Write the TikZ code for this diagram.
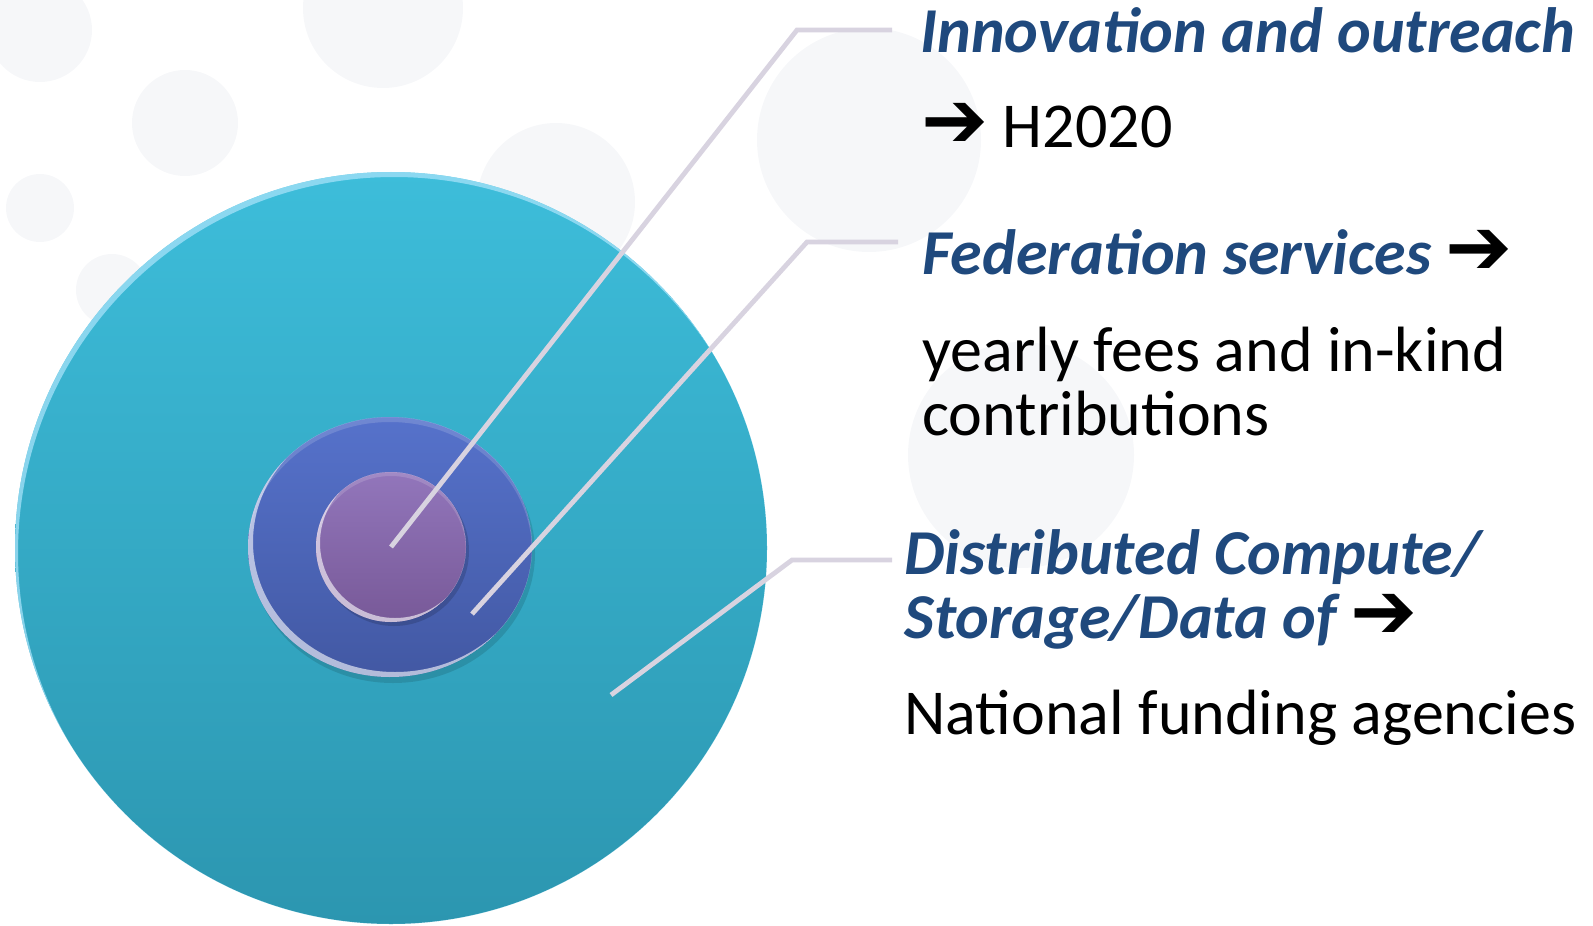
\documentclass[tikz,border=0pt]{standalone}
\usepackage{fontspec}
\setmainfont{Carlito}
\newfontfamily\arrowfont{DejaVu Sans}
\usetikzlibrary{shapes,arrows,fit,positioning}

\definecolor{bubblegray}{RGB}{246,247,249}
\definecolor{outtop}{RGB}{61,189,218}
\definecolor{outbot}{RGB}{44,150,176}
\definecolor{midtop}{RGB}{86,114,203}
\definecolor{midbot}{RGB}{66,88,163}
\definecolor{intop}{RGB}{146,118,187}
\definecolor{inbot}{RGB}{120,89,152}
\definecolor{leadgray}{RGB}{216,211,224}
\definecolor{headblue}{RGB}{31,73,125}

\tikzset{
  bubble/.style={fill=bubblegray},
  disc/.style={circle, inner sep=0pt, draw=none},
  gloss/.style={even odd rule, opacity=#1},
  leader/.style={draw=leadgray, line width=2.4pt},
  head/.style={anchor=base west, inner sep=0pt, align=left, text=headblue,
    font=\fontsize{32}{32}\selectfont\bfseries\itshape},
  body/.style={anchor=base west, inner sep=0pt, align=left,
    font=\fontsize{32}{32}\selectfont},
}
\newcommand{\goarrow}{{\arrowfont\bfseries\fontsize{40}{32}\selectfont ➔}}

\begin{document}
\begin{tikzpicture}[x=0.5pt,y=-0.5pt]
\useasboundingbox (0,0) rectangle (1593,925);
% faint bubbles behind
\foreach \cx/\cy/\r in {40/30/52, 383/8/80, 185/123/53, 40/208/34, 112/290/36,
                        556/202/79, 869/140/112, 1021/455/113}
  \fill[bubble] (\cx,\cy) circle (\r);

% the three discs
\node[disc, minimum size=376pt, top color=outtop, bottom color=outbot] (outer) at (391,548) {};
\begin{scope}
  \clip (outer.center) circle (376);
  \fill[cyan!35!white, gloss=.75] (outer.center) circle (376) ([shift={(3,5)}]outer.center) circle (376);
\end{scope}
\fill[black, opacity=.12] (393,553) ellipse [x radius=142, y radius=130];
\node[disc, ellipse, minimum width=142pt, minimum height=130pt, top color=midtop, bottom color=midbot] (middle) at (390,547) {};
\begin{scope}
  \clip (middle.center) ellipse [x radius=142, y radius=130];
  \fill[white, gloss=.6] (middle.center) ellipse [x radius=142, y radius=130]
    ([shift={(5,-5)}]middle.center) ellipse [x radius=142, y radius=130];
  \fill[white, gloss=.15] (middle.center) ellipse [x radius=142, y radius=130]
    ([shift={(0,5)}]middle.center) ellipse [x radius=142, y radius=130];
\end{scope}
\fill[black, opacity=.15] (394,551) circle (75);
\node[disc, minimum size=75pt, top color=intop, bottom color=inbot] (inner) at (391,547) {};
\begin{scope}
  \clip (inner.center) circle (75);
  \fill[white, gloss=.6] (inner.center) circle (75) ([shift={(4,-4)}]inner.center) circle (75);
  \fill[white, gloss=.15] (inner.center) circle (75) ([shift={(0,4)}]inner.center) circle (75);
\end{scope}

% labels
\node[head] (inno) at (920,53) {Innovation and outreach};
\node[body] (h2020) at (921,148) {\goarrow\ H2020};
\node[head] (fed) at (922,274) {Federation services \textcolor{black}{\goarrow}};
\node[body] (fees) at (922,435) {yearly fees and in-kind\\contributions};
\node[head] (dist) at (904,638) {Distributed Compute/\\Storage/Data of \textcolor{black}{\goarrow}};
\node[body] (nat) at (904,734) {National funding agencies};

% leader lines
\coordinate (p2) at (472,614);
\coordinate (p3) at (611,695);
\coordinate (k1) at (797,30);
\coordinate (k2) at (807,242);
\coordinate (k3) at (792,560);
\coordinate (e1) at (892,30);
\coordinate (e2) at (898,242);
\coordinate (e3) at (892,560);
\draw[leader] (inner.center) -- (k1) -- (e1);
\draw[leader] (p2) -- (k2) -- (e2);
\draw[leader] (p3) -- (k3) -- (e3);
\end{tikzpicture}
\end{document}
